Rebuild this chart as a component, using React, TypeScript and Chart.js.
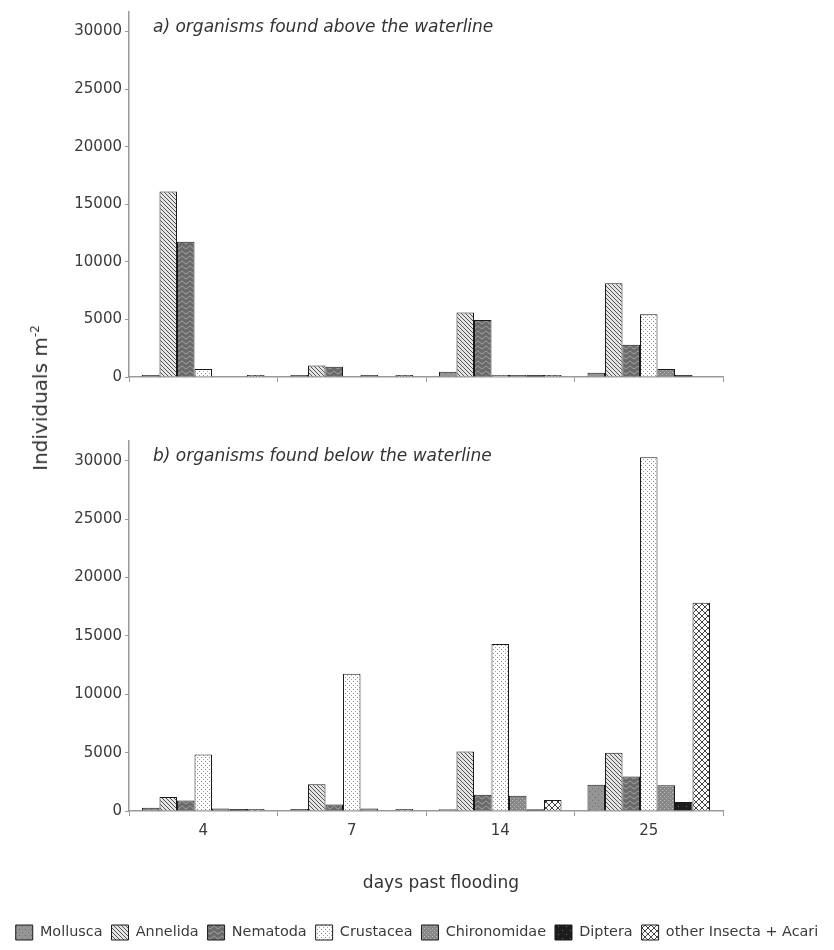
import React, { useEffect, useRef } from "react";
import { Chart, registerables } from "chart.js";
Chart.register(...registerables);

const days = ["4", "7", "14", "25"];
const taxa = ["Mollusca", "Annelida", "Nematoda", "Crustacea", "Chironomidae", "Diptera", "other Insecta + Acari"];
const yTicks = [0, 5000, 10000, 15000, 20000, 25000, 30000];

// a) above the waterline
const aboveMollusca = [170, 170, 450, 370];
const aboveAnnelida = [16100, 1000, 5600, 8150];
const aboveNematoda = [11750, 900, 4950, 2800];
const aboveCrustacea = [700, 0, 170, 5450];
const aboveChironomidae = [0, 170, 170, 700];
const aboveDiptera = [0, 0, 170, 170];
const aboveOther = [170, 170, 170, 0];

// b) below the waterline
const belowMollusca = [280, 170, 150, 2250];
const belowAnnelida = [1200, 2300, 5100, 5000];
const belowNematoda = [900, 550, 1400, 2950];
const belowCrustacea = [4850, 11750, 14300, 30300];
const belowChironomidae = [220, 220, 1300, 2200];
const belowDiptera = [170, 0, 150, 780];
const belowOther = [170, 170, 950, 17850];

const FONT = '"DejaVu Sans", sans-serif';
const TEXT = "#3a3a3a";
const AXIS = "#9a9a9a";

function makePattern(kind: string): CanvasPattern | string {
  const c = document.createElement("canvas");
  let w = 6, h = 6;
  if (kind === "annelida" || kind === "chiro" || kind === "crustacea") { w = 4; h = 4; }
  if (kind === "nematoda") { w = 8; h = 5; }
  if (kind === "diptera") { w = 8; h = 8; }
  c.width = w; c.height = h;
  const ctx = c.getContext("2d")!;
  const dot = (x: number, y: number, col: string, s = 1) => { ctx.fillStyle = col; ctx.fillRect(x, y, s, s); };
  switch (kind) {
    case "mollusca":
      ctx.fillStyle = "#959595"; ctx.fillRect(0, 0, w, h);
      dot(1, 1, "#6a6a6a"); dot(4, 4, "#707070");
      break;
    case "annelida":
      ctx.fillStyle = "#e4e4e4"; ctx.fillRect(0, 0, w, h);
      ctx.strokeStyle = "#555555"; ctx.lineWidth = 1;
      ctx.beginPath();
      ctx.moveTo(-1, -1); ctx.lineTo(5, 5);
      ctx.moveTo(-1, 3); ctx.lineTo(1, 5);
      ctx.moveTo(3, -1); ctx.lineTo(5, 1);
      ctx.stroke();
      break;
    case "nematoda":
      ctx.fillStyle = "#6a6a6a"; ctx.fillRect(0, 0, w, h);
      ctx.strokeStyle = "#b0b0b0"; ctx.lineWidth = 1;
      ctx.beginPath();
      for (let x = 0; x <= w; x += 0.5) {
        const y = 2.5 + 1.3 * Math.sin((x / w) * Math.PI * 2);
        if (x === 0) ctx.moveTo(x, y); else ctx.lineTo(x, y);
      }
      ctx.stroke();
      break;
    case "crustacea":
      ctx.fillStyle = "#ffffff"; ctx.fillRect(0, 0, w, h);
      dot(1, 1, "#8a8a8a"); dot(3, 3, "#a0a0a0");
      break;
    case "chiro":
      ctx.fillStyle = "#878787"; ctx.fillRect(0, 0, w, h);
      dot(0, 0, "#c0c0c0"); dot(2, 2, "#c0c0c0");
      break;
    case "diptera":
      ctx.fillStyle = "#1c1c1c"; ctx.fillRect(0, 0, w, h);
      dot(2, 2, "#6a6a6a"); dot(6, 6, "#6a6a6a");
      break;
    default:
      ctx.fillStyle = "#ffffff"; ctx.fillRect(0, 0, w, h);
      ctx.strokeStyle = "#444444"; ctx.lineWidth = 1;
      ctx.beginPath();
      ctx.moveTo(0, 0); ctx.lineTo(6, 6);
      ctx.moveTo(6, 0); ctx.lineTo(0, 6);
      ctx.stroke();
  }
  return ctx.createPattern(c, "repeat") || "#888";
}

function buildChart(canvas: HTMLCanvasElement, values: number[][], title: string, isBottom: boolean) {
  const kinds = ["mollusca", "annelida", "nematoda", "crustacea", "chiro", "diptera", "other"];
  const patterns = kinds.map(makePattern);

  const panelTitle = {
    id: "panelTitle",
    afterDraw(chart: any) {
      const { ctx, chartArea, scales } = chart;
      ctx.save();
      ctx.font = `italic 17px ${FONT}`;
      ctx.fillStyle = "#333";
      ctx.textBaseline = "middle";
      ctx.textAlign = "left";
      ctx.fillText(title, chartArea.left + 24, scales.y.getPixelForValue(30000) - 4);
      if (isBottom) {
        ctx.font = `17px ${FONT}`;
        ctx.textAlign = "center";
        ctx.fillText("days past flooding", (chartArea.left + chartArea.right) / 2 + 15, chartArea.bottom + 73);
      }
      ctx.restore();
    },
  };

  return new Chart(canvas, {
    type: "bar",
    data: {
      labels: days,
      datasets: taxa.map((t, i) => ({
        label: t,
        data: values[i],
        backgroundColor: patterns[i] as any,
        borderColor: "#1a1a1a",
        borderWidth: 1,
        categoryPercentage: 0.825,
        barPercentage: 1,
      })),
    },
    options: {
      animation: false,
      responsive: true,
      maintainAspectRatio: false,
      layout: { padding: { left: 0, right: 0, top: isBottom ? 41 : 10, bottom: 0 } },
      plugins: {
        tooltip: { enabled: false },
        legend: isBottom
          ? {
              display: true,
              position: "bottom",
              labels: {
                font: { family: FONT, size: 14.4 },
                color: TEXT,
                boxWidth: 17,
                boxHeight: 15,
                padding: 9,
              },
            }
          : { display: false },
      },
      scales: {
        x: {
          grid: { display: true, drawOnChartArea: false, drawTicks: true, tickLength: 5, color: AXIS, offset: true },
          border: { display: true, color: AXIS, width: 1.5 },
          ticks: { display: isBottom, font: { family: FONT, size: 15 }, color: TEXT, padding: 6 },
          afterFit: (a: any) => { a.height = isBottom ? 105 : 18; },
        },
        y: {
          min: 0,
          max: 31700,
          afterBuildTicks: (a: any) => { a.ticks = yTicks.map((v) => ({ value: v })); },
          grid: { display: true, drawOnChartArea: false, drawTicks: true, tickLength: 4, color: AXIS },
          border: { display: true, color: AXIS, width: 1.5 },
          ticks: { font: { family: FONT, size: 15 }, color: TEXT, padding: 3, callback: (v: any) => String(v) },
          afterFit: (a: any) => { a.width = 129; },
        },
        yRightSpace: {
          type: "linear",
          position: "right",
          display: true,
          grid: { display: false, drawTicks: false },
          border: { display: false },
          ticks: { display: false },
          afterFit: (a: any) => { a.width = 111; },
        },
      },
    } as any,
    plugins: [panelTitle],
  });
}

export default function App() {
  const topRef = useRef<HTMLCanvasElement>(null);
  const botRef = useRef<HTMLCanvasElement>(null);

  useEffect(() => {
    const top = buildChart(
      topRef.current!,
      [aboveMollusca, aboveAnnelida, aboveNematoda, aboveCrustacea, aboveChironomidae, aboveDiptera, aboveOther],
      "a) organisms found above the waterline",
      false
    );
    const bot = buildChart(
      botRef.current!,
      [belowMollusca, belowAnnelida, belowNematoda, belowCrustacea, belowChironomidae, belowDiptera, belowOther],
      "b) organisms found below the waterline",
      true
    );
    return () => { top.destroy(); bot.destroy(); };
  }, []);

  return (
    <div style={{ position: "absolute", left: 0, top: 0, width: 834, height: 950, background: "#fff", overflow: "hidden" }}>
      <div style={{ position: "absolute", left: 0, top: 0, width: 834, height: 395 }}>
        <canvas ref={topRef} />
      </div>
      <div style={{ position: "absolute", left: 0, top: 400, width: 834, height: 550 }}>
        <canvas ref={botRef} />
      </div>
      <div
        style={{
          position: "absolute",
          left: 40,
          top: 398,
          transform: "translate(-50%, -50%) rotate(-90deg)",
          whiteSpace: "nowrap",
          font: `20px ${FONT}`,
          color: "#333",
          lineHeight: "24px",
        }}
      >
        Individuals m<sup style={{ fontSize: "0.6em", lineHeight: 0 }}>-2</sup>
      </div>
    </div>
  );
}
